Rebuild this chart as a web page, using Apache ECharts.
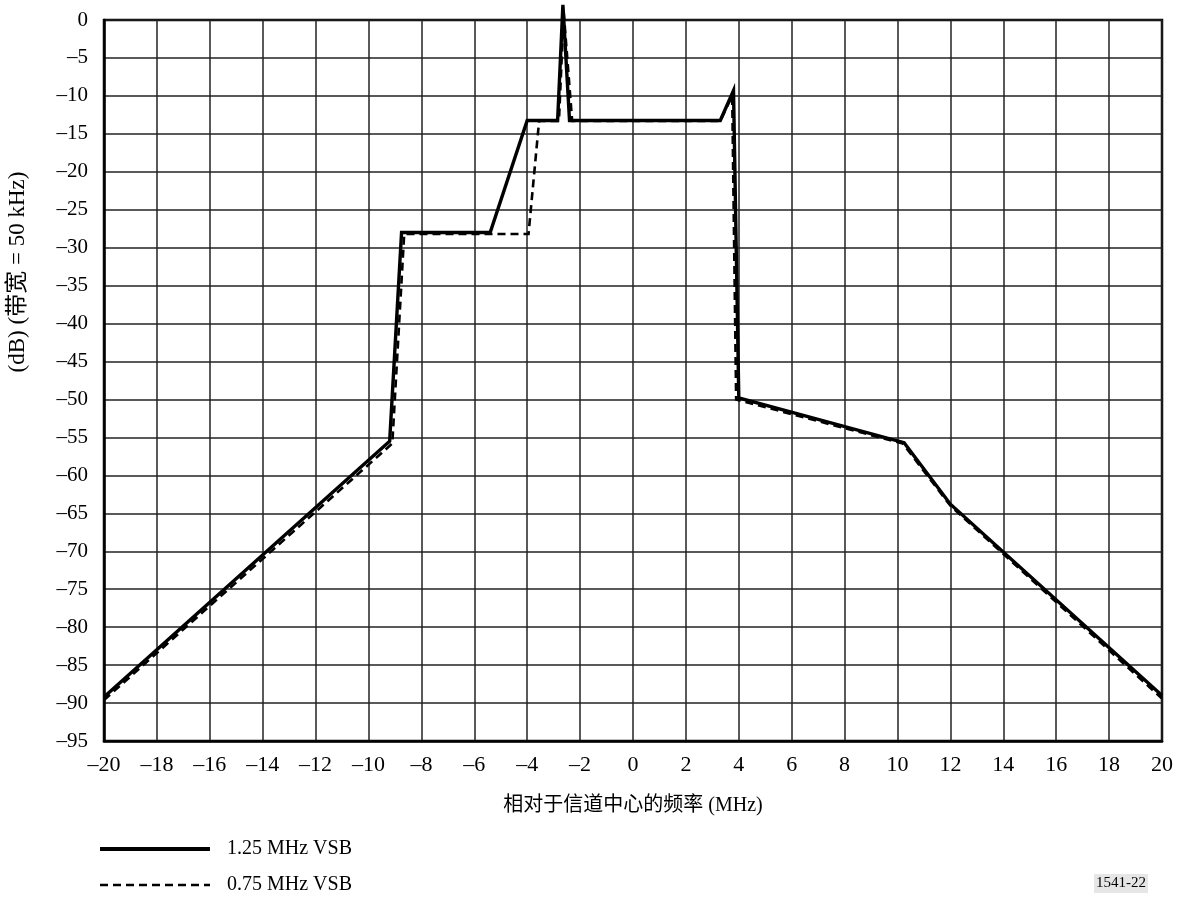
<!DOCTYPE html>
<html>
<head>
<meta charset="utf-8">
<script src="https://cdn.jsdelivr.net/npm/echarts@6/dist/echarts.min.js"></script>
<style>
  html, body { margin: 0; padding: 0; background: #fff; }
  #chart { width: 1184px; height: 901px; }
</style>
</head>
<body>
<div id="chart"></div>
<script>
// 1.25 MHz VSB (solid)
var solidX = [-20, -9.2, -8.75, -5.4, -4.0, -2.85, -2.65, -2.4, 3.3, 3.8, 4.0, 10.25, 12.0, 20];
var solidY = [-89.2, -55.5, -28, -28, -13.25, -13.25, 2, -13.25, -13.25, -9.3, -49.8, -55.7, -63.8, -89];
// 0.75 MHz VSB (dashed)
var dashX = [-20, -9.1, -8.65, -3.95, -3.55, -2.8, -2.62, -2.3, 3.3, 3.75, 3.9, 10.2, 12.0, 20];
var dashY = [-89.6, -55.8, -28.2, -28.2, -13.3, -13.3, 1, -13.3, -13.3, -10, -50, -55.8, -64, -89.4];

var seriesNames = ['1.25 MHz VSB', '0.75 MHz VSB'];
var xTicks = [-20, 20, 2];   // min, max, interval
var yTicks = [-95, 0, 5];

function pairs(xs, ys) {
    var out = [];
    for (var i = 0; i < xs.length; i++) out.push([xs[i], ys[i]]);
    return out;
}

function dashLabel(v) {
    return String(v).replace('-', '\u2013');
}

var serif = '"Liberation Serif", "Times New Roman", "Noto Sans CJK SC", serif';

var myChart = echarts.init(document.getElementById('chart'));
myChart.setOption({
    animation: false,
    backgroundColor: '#fff',
    grid: {
        left: 104,
        right: 22,
        top: 20,
        bottom: 160,
        show: true,
        borderColor: '#000',
        borderWidth: 2.5,
        backgroundColor: 'transparent'
    },
    xAxis: {
        type: 'value',
        min: xTicks[0],
        max: xTicks[1],
        interval: xTicks[2],
        name: '相对于信道中心的频率 (MHz)',
        nameLocation: 'middle',
        nameGap: 55,
        nameTextStyle: { fontFamily: serif, fontSize: 20, color: '#000' },
        axisLine: { show: true, onZero: false, lineStyle: { color: '#000', width: 2.5 } },
        axisTick: { show: false },
        splitLine: { show: true, lineStyle: { color: '#222', width: 1.5 } },
        axisLabel: {
            formatter: dashLabel,
            fontFamily: serif,
            fontSize: 22,
            color: '#000',
            margin: 13
        }
    },
    yAxis: {
        type: 'value',
        min: yTicks[0],
        max: yTicks[1],
        interval: yTicks[2],
        axisLine: { show: true, onZero: false, lineStyle: { color: '#000', width: 2.5 } },
        axisTick: { show: false },
        splitLine: { show: true, lineStyle: { color: '#222', width: 1.5 } },
        axisLabel: {
            formatter: dashLabel,
            fontFamily: serif,
            fontSize: 21,
            color: '#000',
            margin: 16
        }
    },
    legend: {
        orient: 'vertical',
        left: 93,
        top: 834,
        itemWidth: 110,
        itemHeight: 22,
        itemGap: 16,
        itemStyle: { opacity: 0 },
        textStyle: { fontFamily: serif, fontSize: 20, color: '#000', padding: [0, 0, 0, 12] },
        data: [
            { name: seriesNames[0], lineStyle: { width: 4 } },
            { name: seriesNames[1], lineStyle: { width: 2.5 } }
        ]
    },
    graphic: [{
        type: 'text',
        x: 18,
        y: 272,
        rotation: Math.PI / 2,
        style: {
            text: '(dB) (带宽 = 50 kHz)',
            font: '23px ' + serif,
            fill: '#000',
            align: 'center',
            verticalAlign: 'middle'
        }
    }, {
        type: 'text',
        left: 1094,
        top: 874,
        style: {
            text: '1541-22',
            font: '15px ' + serif,
            fill: '#000',
            backgroundColor: '#e6e6e6',
            padding: [2, 2, 2, 2]
        }
    }],
    series: [{
        name: seriesNames[0],
        type: 'line',
        clip: false,
        symbol: 'none',
        data: pairs(solidX, solidY),
        lineStyle: { color: '#000', width: 3.4, join: 'miter' },
        itemStyle: { color: '#000' },
        z: 3
    }, {
        name: seriesNames[1],
        type: 'line',
        clip: false,
        symbol: 'none',
        data: pairs(dashX, dashY),
        lineStyle: { color: '#000', width: 2.6, type: [8, 5], join: 'miter' },
        itemStyle: { color: '#000' },
        z: 2
    }]
});
</script>
</body>
</html>
